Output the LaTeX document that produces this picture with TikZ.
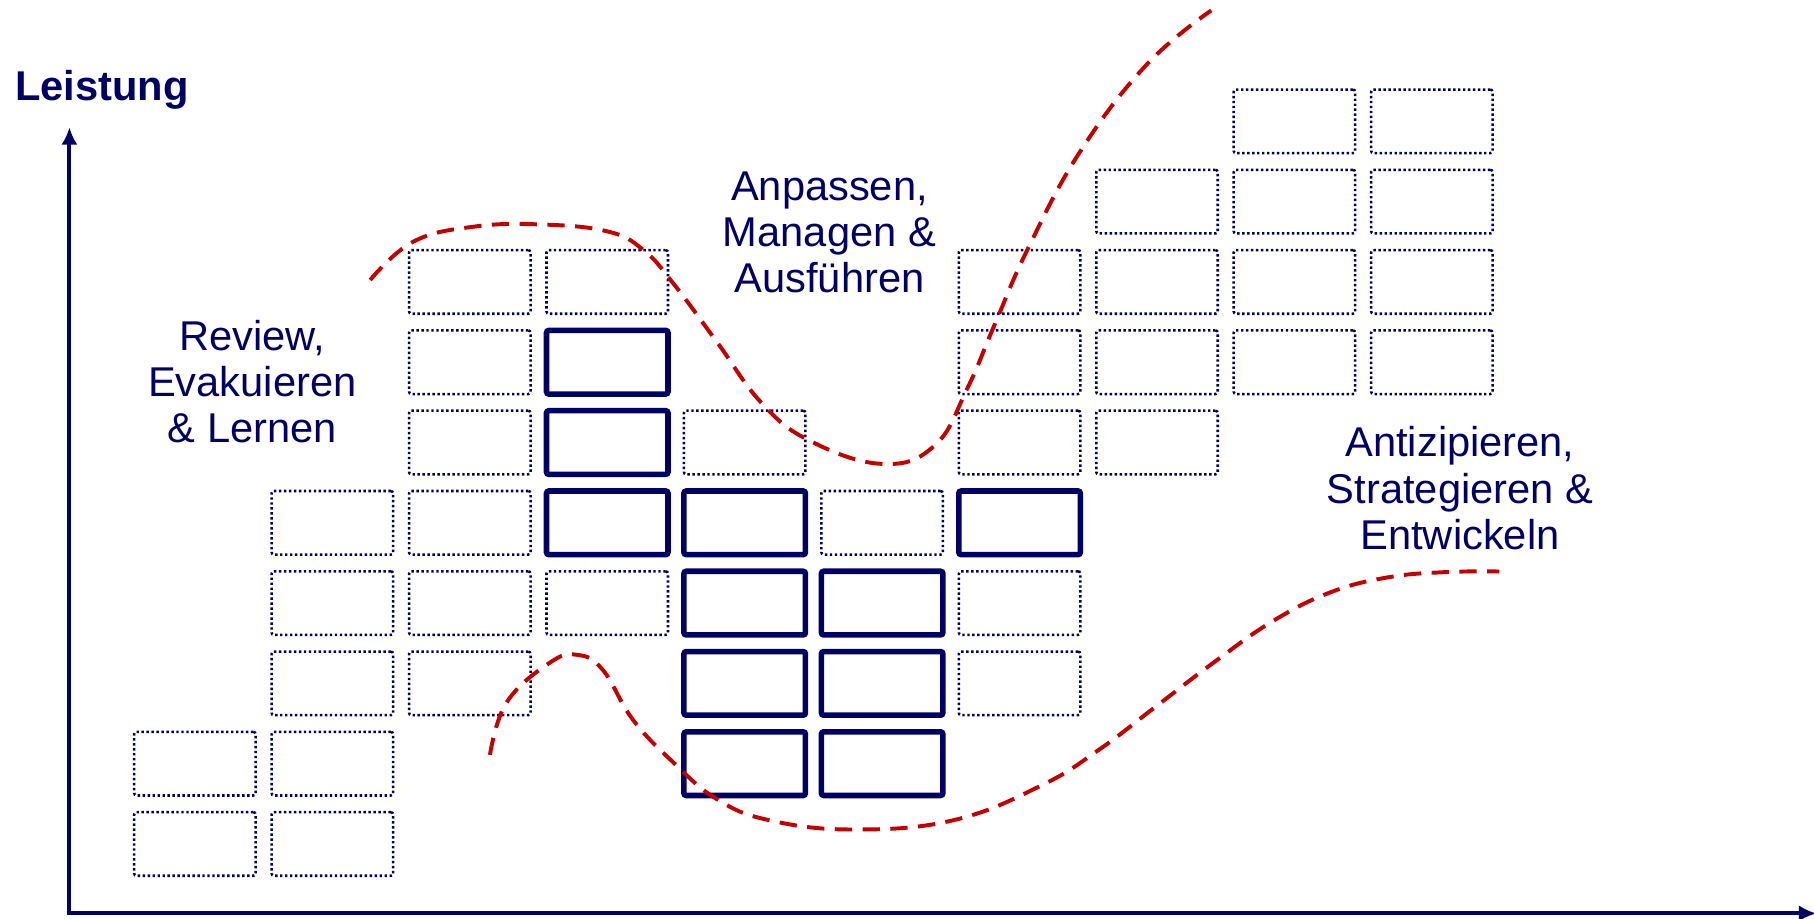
\documentclass[tikz,border=0pt]{standalone}
\usepackage{fontspec}
\setmainfont{Liberation Sans}
\usetikzlibrary{arrows.meta}
\definecolor{navy}{RGB}{0,0,102}
\definecolor{curvered}{RGB}{196,0,0}
\tikzset{
  dotbox/.style={draw=navy, line width=2.2pt, dash pattern=on 2.1pt off 2.2pt,
    rounded corners=2pt, minimum width=105pt, minimum height=55pt, inner sep=0pt, outer sep=0pt},
  solidbox/.style={draw=navy, line width=4.8pt, rounded corners=2pt,
    minimum width=105pt, minimum height=55pt, inner sep=0pt, outer sep=0pt},
  axisline/.style={draw=navy, line width=3.6pt},
  redcurve/.style={draw=curvered, line width=3.4pt, dash pattern=on 15pt off 9pt},
  label/.style={text=navy, align=center, inner sep=0pt,
    font=\fontsize{36pt}{40pt}\selectfont},
}
\begin{document}
\begin{tikzpicture}[x=1pt, y=-1pt]
\useasboundingbox (0,0) rectangle (1568,794);

% axes
\coordinate (O) at (60,789.5);
\coordinate (ytip) at (60,110);
\coordinate (xtip) at (1570,789.5);
\draw[axisline, {Latex[length=15pt,width=14pt]}-{Latex[length=15pt,width=14pt]}] (ytip) -- (O) -- (xtip);

\node[text=navy, anchor=base west, inner sep=0pt, font=\bfseries\fontsize{36pt}{40pt}\selectfont] (leistung) at (13,86.5) {Leistung};

% dotted boxes
\foreach \c/\r in {8/0,9/0, 7/1,8/1,9/1, 2/2,3/2,6/2,7/2,8/2,9/2, 2/3,6/3,7/3,8/3,9/3,
  2/4,4/4,6/4,7/4, 1/5,2/5,5/5, 1/6,2/6,3/6,6/6, 1/7,2/7,6/7, 0/8,1/8, 0/9,1/9}
  \node[dotbox] (b-\c-\r) at ({168.5+118.8*\c},{104.9+69.4*\r}) {};

% solid boxes
\foreach \c/\r in {3/3, 3/4, 3/5,4/5,6/5, 4/6,5/6, 4/7,5/7, 4/8,5/8}
  \node[solidbox] (b-\c-\r) at ({168.5+118.8*\c},{104.9+69.4*\r}) {};

% labels
\node[label] (review) at (218,330) {Review,\\Evakuieren\\\& Lernen};
\node[label] (anpassen) at (717,201) {Anpassen,\\Managen \&\\Ausführen};
\node[label] (antizip) at (1262,422) {Antizipieren,\\Strategieren \&\\Entwickeln};

% red dashed curves
\draw[redcurve] plot[smooth, tension=0.7] coordinates {
  (320,242) (357,209) (409,196) (467,194) (525,200) (556,216) (582,245)
  (620,296) (658,348) (700,381) (763,401) (808,385) (836,336) (860,280)
  (888,216) (933,132) (991,56) (1047,9)};

\draw[redcurve] plot[smooth, tension=0.7] coordinates {
  (423.5,652.5) (438,607) (475,573) (498.7,566) (521,579) (547,622)
  (582,659) (620,691) (665,709) (737,717) (824,709) (900,679) (950,648)
  (1000,610) (1050,572) (1100,537) (1150,512) (1200,499) (1250,494.5) (1296,494)};
\end{tikzpicture}
\end{document}
